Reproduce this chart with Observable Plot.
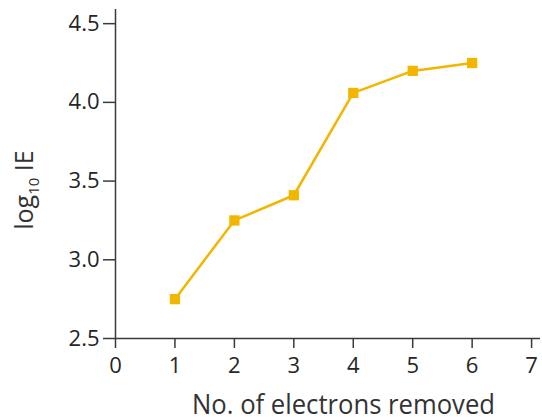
<!DOCTYPE html>
<html>
<head>
<meta charset="utf-8">
<script src="https://cdn.jsdelivr.net/npm/d3@7"></script>
<script src="https://cdn.jsdelivr.net/npm/@observablehq/plot@0.6"></script>
<style>
  html, body { margin: 0; padding: 0; background: #fff; }
</style>
</head>
<body>
<div id="chart"></div>
<script>
const electronsRemoved = [1, 2, 3, 4, 5, 6];
const logIE = [2.75, 3.25, 3.41, 4.06, 4.20, 4.25];
const xTicks = [0, 1, 2, 3, 4, 5, 6, 7];
const yTicks = [2.5, 3.0, 3.5, 4.0, 4.5];
const xLabel = "No. of electrons removed";

const data = electronsRemoved.map((x, i) => ({x, y: logIE[i]}));
const gold = "#F2B600";
const axisColor = "#3a3a3a";
const textColor = "#262626";

const plot = Plot.plot({
  width: 542,
  height: 417,
  marginLeft: 115,
  marginRight: 2,
  marginTop: 9,
  marginBottom: 79,
  x: {domain: [0, 7.15]},
  y: {domain: [2.5, 4.59]},
  style: {fontFamily: "'Open Sans', sans-serif", fontSize: "22px", color: textColor, background: "#fff"},
  marks: [
    Plot.axisX({ticks: xTicks, tickSize: 10, tickPadding: 9, label: null, fontSize: 22, stroke: axisColor, strokeWidth: 1.5, strokeOpacity: 1}),
    Plot.axisY({ticks: yTicks, tickFormat: d3.format(".1f"), tickSize: 12, tickPadding: 4, label: null, fontSize: 22, stroke: axisColor, strokeWidth: 1.5, strokeOpacity: 1}),
    Plot.ruleX([0], {stroke: axisColor, strokeWidth: 1.5}),
    Plot.ruleY([2.5], {stroke: axisColor, strokeWidth: 1.5}),
    Plot.line(data, {x: "x", y: "y", stroke: gold, strokeWidth: 2.5}),
    Plot.dot(data, {x: "x", y: "y", symbol: "square", r: 5.8, fill: gold, stroke: "none"})
  ]
});

const svg = d3.select(plot);
svg.append("text")
  .attr("x", 192)
  .attr("y", 414)
  .attr("text-anchor", "start")
  .attr("font-family", "'Open Sans', sans-serif")
  .attr("font-size", 28)
  .attr("textLength", 303)
  .attr("lengthAdjust", "spacingAndGlyphs")
  .attr("fill", "#333")
  .text(xLabel);

const yl = svg.append("text")
  .attr("transform", "translate(33,190) rotate(-90)")
  .attr("text-anchor", "middle")
  .attr("font-family", "'Open Sans', sans-serif")
  .attr("font-size", 25)
  .attr("fill", "#333");
yl.append("tspan").text("log");
yl.append("tspan").attr("font-size", 15).attr("dy", 6).text("10");
yl.append("tspan").attr("dy", -6).text(" IE");

document.getElementById("chart").appendChild(plot);
</script>
</body>
</html>
